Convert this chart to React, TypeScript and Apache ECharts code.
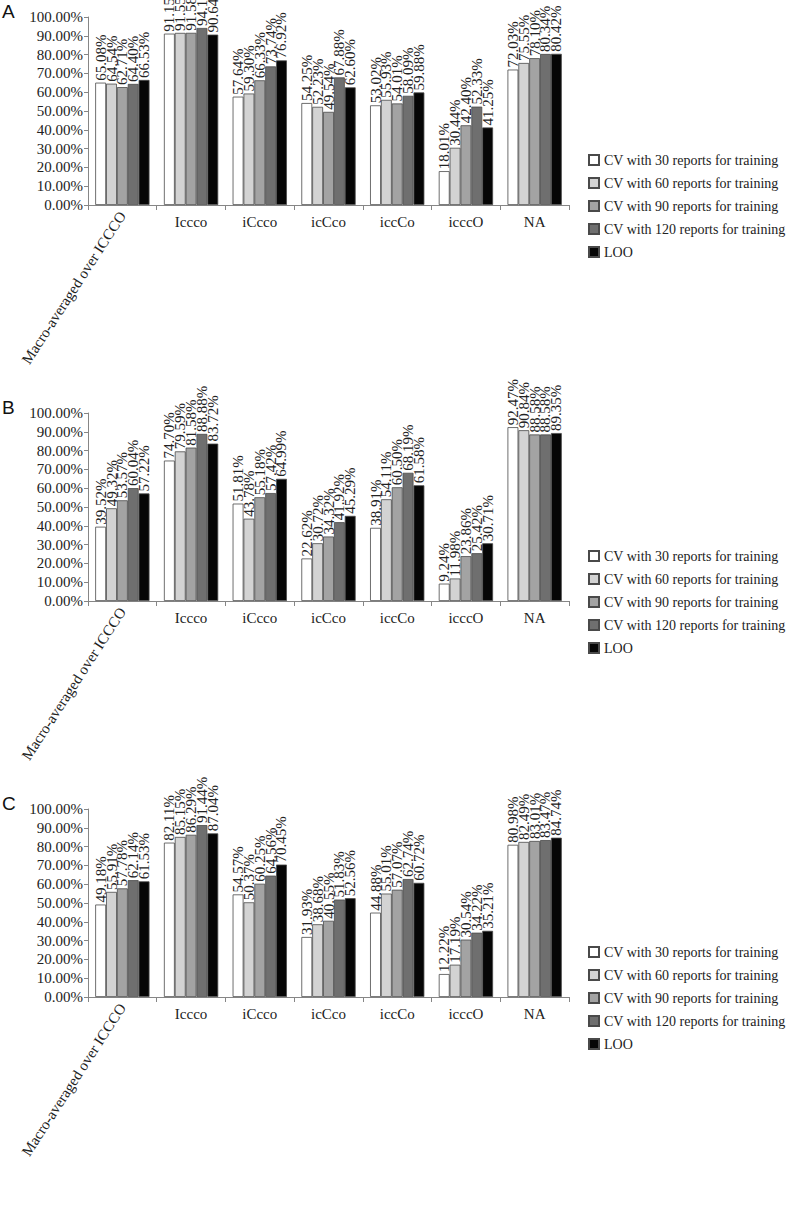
import React, { useEffect, useRef } from "react";
import * as echarts from "echarts";

const categories = ["Macro-averaged over ICCCO", "Iccco", "iCcco", "icCco", "iccCo", "icccO", "NA"];
const seriesNames = [
  "CV with 30 reports for training",
  "CV with 60 reports for training",
  "CV with 90 reports for training",
  "CV with 120 reports for training",
  "LOO",
];
const panelLabels = ["A", "B", "C"];
const yTicks = [0, 10, 20, 30, 40, 50, 60, 70, 80, 90, 100];

// Panel A
const a30 = [65.08, 91.15, 57.64, 54.25, 53.02, 18.01, 72.03];
const a60 = [64.54, 91.55, 59.3, 52.23, 55.93, 30.44, 75.55];
const a90 = [62.71, 91.58, 66.33, 49.54, 54.01, 42.4, 78.1];
const a120 = [64.4, 94.16, 73.74, 67.88, 58.09, 52.33, 80.34];
const aLoo = [66.53, 90.64, 76.92, 62.6, 59.88, 41.25, 80.42];
// Panel B
const b30 = [39.52, 74.7, 51.81, 22.62, 38.91, 9.24, 92.47];
const b60 = [49.32, 79.59, 43.78, 30.72, 54.11, 11.98, 90.84];
const b90 = [53.57, 81.58, 55.18, 34.32, 60.5, 23.86, 88.58];
const b120 = [60.04, 88.88, 57.42, 41.92, 68.19, 25.42, 88.58];
const bLoo = [57.22, 83.72, 64.99, 45.29, 61.58, 30.71, 89.35];
// Panel C
const c30 = [49.18, 82.11, 54.57, 31.93, 44.88, 12.22, 80.98];
const c60 = [55.91, 85.15, 50.37, 38.68, 55.01, 17.19, 82.49];
const c90 = [57.78, 86.29, 60.25, 40.55, 57.07, 30.54, 83.01];
const c120 = [62.14, 91.44, 64.56, 51.83, 62.74, 34.22, 83.47];
const cLoo = [61.53, 87.04, 70.45, 52.56, 60.72, 35.21, 84.74];

const panels = [
  [a30, a60, a90, a120, aLoo],
  [b30, b60, b90, b120, bLoo],
  [c30, c60, c90, c120, cLoo],
];

const colors = ["#ffffff", "#d3d3d3", "#a3a3a3", "#6f6f6f", "#060606"];
const SERIF = "'Liberation Serif', 'Times New Roman', serif";
const PANEL_STEP = 396;

export default function App() {
  const ref = useRef<HTMLDivElement>(null);
  useEffect(() => {
    if (!ref.current) return;
    const chart = echarts.init(ref.current, null, { renderer: "svg" });
    const grid: any[] = [];
    const xAxis: any[] = [];
    const yAxis: any[] = [];
    const legend: any[] = [];
    const series: any[] = [];
    const graphic: any[] = [];
    panels.forEach((panel, p) => {
      const off = p * PANEL_STEP;
      grid.push({ left: 88, top: 17 + off, width: 481, height: 188 });
      xAxis.push({
        type: "category",
        gridIndex: p,
        data: categories,
        axisLine: { lineStyle: { color: "#868686", width: 1 } },
        axisTick: { show: true, length: 5, lineStyle: { color: "#868686" } },
        axisLabel: {
          interval: 0,
          margin: 9,
          fontFamily: SERIF,
          fontSize: 15,
          color: "#222",
          formatter: (v: string) => (v === categories[0] ? "" : v),
        },
      });
      xAxis.push({
        type: "category",
        gridIndex: p,
        position: "bottom",
        data: categories,
        axisLine: { show: false },
        axisTick: { show: false },
        axisLabel: {
          interval: 0,
          margin: 8,
          rotate: 57,
          fontFamily: SERIF,
          fontSize: 15,
          color: "#222",
          formatter: (v: string) => (v === categories[0] ? v : ""),
        },
      });
      yAxis.push({
        type: "value",
        gridIndex: p,
        min: yTicks[0],
        max: yTicks[yTicks.length - 1],
        interval: 10,
        axisLine: { show: true, lineStyle: { color: "#868686" } },
        axisTick: { show: true, length: 4, lineStyle: { color: "#868686" } },
        splitLine: { show: false },
        axisLabel: {
          margin: 5,
          fontFamily: SERIF,
          fontSize: 15,
          color: "#222",
          formatter: (v: number) => v.toFixed(2) + "%",
        },
      });
      legend.push({
        orient: "vertical",
        left: 583,
        top: 148 + off,
        itemWidth: 10,
        itemHeight: 10,
        itemGap: 9,
        icon: "rect",
        data: seriesNames,
        textStyle: { fontFamily: SERIF, fontSize: 14, color: "#222" },
      });
      panel.forEach((vals, s) => {
        series.push({
          type: "bar",
          name: seriesNames[s],
          xAxisIndex: p * 2,
          yAxisIndex: p,
          data: vals,
          barGap: "0%",
          barCategoryGap: "21%",
          itemStyle: { color: colors[s], borderColor: "#4a4a4a", borderWidth: 0.8 },
          label: {
            show: true,
            position: "top",
            rotate: 90,
            align: "left",
            verticalAlign: "middle",
            distance: 2,
            fontFamily: SERIF,
            fontSize: 15,
            color: "#222",
            formatter: (d: any) => Number(d.value).toFixed(2) + "%",
          },
        });
      });
      graphic.push({
        type: "text",
        left: 2,
        top: 2 + off,
        style: {
          text: panelLabels[p],
          fontFamily: "'Liberation Sans', Arial, sans-serif",
          fontSize: 19,
          fill: "#111",
        },
      });
    });
    chart.setOption({
      animation: false,
      backgroundColor: "#ffffff",
      grid,
      xAxis,
      yAxis,
      legend,
      series,
      graphic,
    });
    return () => chart.dispose();
  }, []);
  return (
    <div
      ref={ref}
      style={{ position: "absolute", left: 0, top: 0, width: 788, height: 1209 }}
    />
  );
}
